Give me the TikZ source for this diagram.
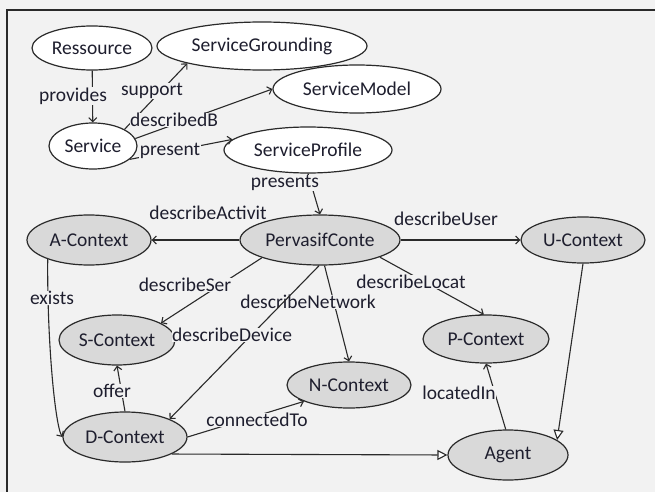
\documentclass[tikz,border=0pt]{standalone}
\usepackage{fontspec}
\setmainfont{Carlito}
\usetikzlibrary{shapes.geometric,arrows.meta}
\definecolor{bg}{HTML}{F2F2F2}
\definecolor{gfill}{HTML}{D9D9D9}
\definecolor{ink}{HTML}{1E1E2E}
\definecolor{edgec}{HTML}{2A2A2A}
\begin{document}
\begin{tikzpicture}[x=1pt,y=-1pt, font=\fontsize{19.5}{22}\selectfont,
 wnode/.style={ellipse, draw=edgec, line width=1.2pt, fill=white, inner sep=0pt, text=ink},
 gnode/.style={wnode, fill=gfill},
 lab/.style={fill=bg, inner sep=0.5pt, text=ink},
 arr/.style={draw=edgec, line width=1.1pt, -{Straight Barb[length=4pt,width=8pt]}},
 tri/.style={draw=edgec, line width=1.1pt, -{Triangle[length=10pt,width=10pt,fill=white]}}]
\useasboundingbox (0,0) rectangle (655,492);
\fill[bg] (0,0) rectangle (655,492);
\draw[line width=1.5pt, draw=edgec] (655,10) -- (7,10) -- (7,492);
% nodes
\node[wnode, minimum width=120pt, minimum height=44pt] (res) at (92,48) {Ressource};
\node[wnode, minimum width=210pt, minimum height=48pt] (sg) at (262,46) {ServiceGrounding};
\node[wnode, minimum width=168pt, minimum height=48pt] (sm) at (357,89) {ServiceModel};
\node[wnode, minimum width=88pt, minimum height=46pt] (svc) at (93,146) {Service};
\node[wnode, minimum width=168pt, minimum height=46pt] (sp) at (308,150) {ServiceProfile};
\node[gnode, minimum width=160pt, minimum height=50pt] (pc) at (320,240) {PervasifConte};
\node[gnode, minimum width=124pt, minimum height=50pt] (ac) at (89,240) {A-Context};
\node[gnode, minimum width=124pt, minimum height=46pt] (uc) at (583,240) {U-Context};
\node[gnode, minimum width=116pt, minimum height=50pt] (sc) at (117,340) {S-Context};
\node[gnode, minimum width=126pt, minimum height=48pt] (pctx) at (486,339) {P-Context};
\node[gnode, minimum width=124pt, minimum height=46pt] (nc) at (349,385) {N-Context};
\node[gnode, minimum width=124pt, minimum height=50pt] (dc) at (125,437) {D-Context};
\node[gnode, minimum width=120pt, minimum height=50pt] (ag) at (508,455) {Agent};
% edges
\draw[arr] (res) -- (svc);
\draw[arr] (svc.north east) -- (sg.south west);
\draw[arr] (svc.10) -- (sm.west);
\draw[arr] (svc.-20) -- (sp.172);
\draw[arr] (sp.south) -- (pc.north);
\draw[arr] (pc.west) -- (ac.east);
\draw[arr] (pc.east) -- (uc.west);
\draw[arr] (pc.197) -- (sc.21);
\draw[arr] (pc.-80) -- (nc.north);
\draw[arr] (pc.-16) -- (pctx.95);
\draw[arr] (dc.north) -- (sc.south);
\draw[arr] (dc.east) -- (nc.200);
\draw[arr] (ag.95) -- (pctx.south);
\draw[tri] (uc.south) -- (ag.17);
\draw[tri] (dc.-20) -- (ag.west);
\draw[arr] (ac.-155) .. controls (47,340) and (55,425) .. (dc.west);
% labels
\node[lab] (lprov) at (73,96) {provides};
\node[lab] (lsup) at (152,91) {support};
\node[lab] (ldesc) at (174,120) {describedB};
\node[lab] (lpres) at (170,151) {present};
\node[lab] (lpress) at (285,183) {presents};
\node[lab] (lact) at (208,213) {describeActivit};
\node[lab] (luser) at (446,219) {describeUser};
\node[lab] (lser) at (185,285) {describeSer};
\node[lab] (lnet) at (308,302) {describeNetwork};
\node[lab] (lloc) at (411,282) {describeLocat};
\node[lab] (lexi) at (52,298) {exists};
\node[lab] (loff) at (112,391) {offer};
\node[lab] (lcon) at (257,420) {connectedTo};
\node[lab] (lin) at (459,393) {locatedIn};
% describeDevice drawn over the describeNetwork label
\draw[arr] (pc.-92) -- (dc.22);
\node[lab] (ldev) at (232,335) {describeDevice};
\end{tikzpicture}
\end{document}
